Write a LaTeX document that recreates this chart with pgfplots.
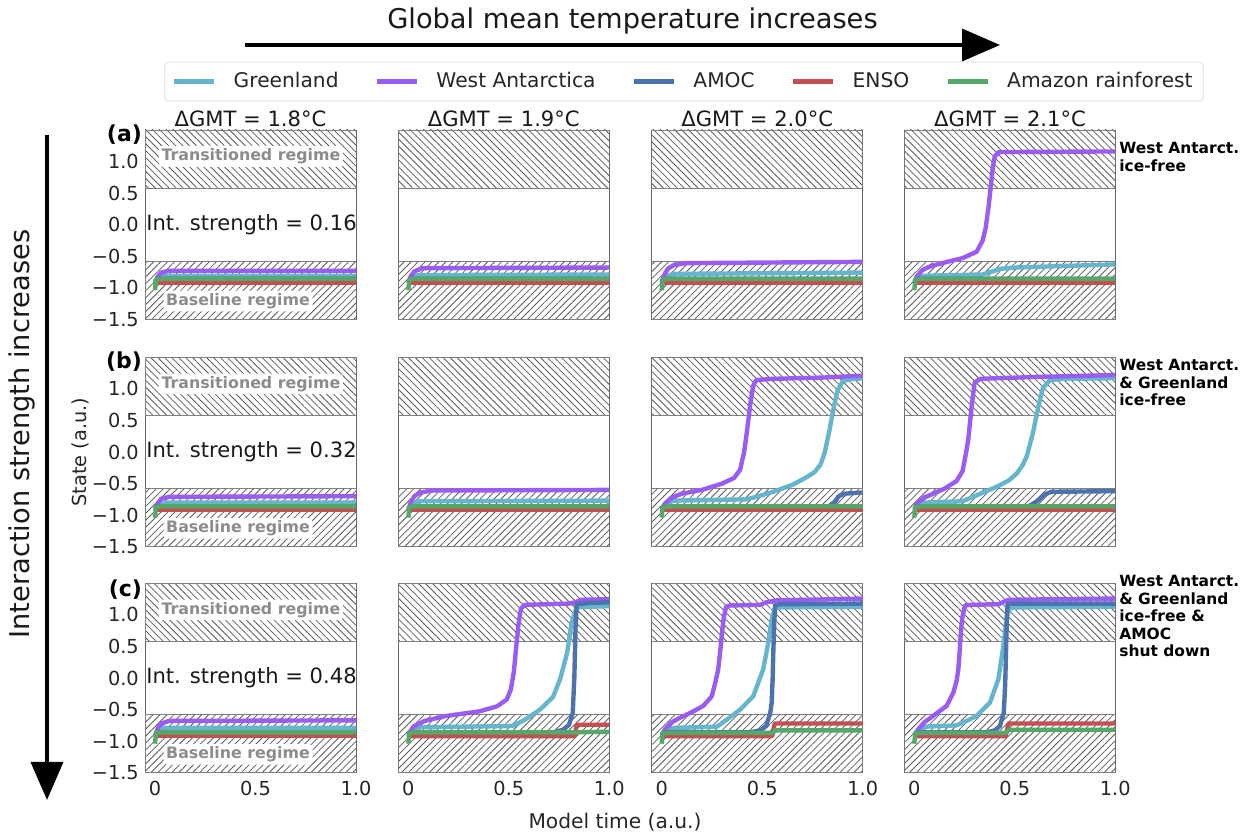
\documentclass[border=0pt]{standalone}
\usepackage{fontspec}
\setmainfont{DejaVu Sans}
\usepackage{pgfplots}
\pgfplotsset{compat=1.18}
\usetikzlibrary{patterns.meta,arrows.meta}

\definecolor{cGL}{HTML}{64B5CD}
\definecolor{cWA}{HTML}{9B5CF6}
\definecolor{cAM}{HTML}{4C72B0}
\definecolor{cEN}{HTML}{C44E52}
\definecolor{cAZ}{HTML}{55A868}

\pgfplotsset{
  panel/.style={scale only axis, width=4.22cm, height=3.786cm, anchor=south west,
    xmin=-0.05, xmax=1, ymin=-1.5, ymax=1.5,
    xtick={0,0.5,1}, ytick={-1.5,-1,-0.5,0,0.5,1},
    xticklabels={,,}, yticklabels={,,,,,},
    major tick length=0pt,
    axis line style={draw=black!60, line width=0.5pt},
    tick label style={font=\fontsize{11}{13}\selectfont, text=black!85},
    xticklabel style={yshift=-1pt}},
  ylab/.style={yticklabels={−1.5,−1.0,−0.5,0.0,0.5,1.0}},
  xlab/.style={xticklabels={0,0.5,1.0}},
  gl/.style={color=cGL, line width=2.5pt, line join=round, no markers},
  wa/.style={color=cWA, line width=2.5pt, line join=round, no markers},
  am/.style={color=cAM, line width=2.5pt, line join=round, no markers},
  en/.style={color=cEN, line width=2.5pt, line join=round, no markers},
  az/.style={color=cAZ, line width=2.5pt, line join=round, no markers},
}

\newcommand{\regimes}{%
  \addplot[forget plot, draw=black!50, line width=0.5pt, pattern={Lines[angle=-45,distance=2.8pt,line width=0.45pt]}, pattern color=black!65]
    coordinates {(-0.05,0.58) (1,0.58) (1,1.5) (-0.05,1.5) (-0.05,0.58)};
  \addplot[forget plot, draw=black!50, line width=0.5pt, pattern={Lines[angle=45,distance=2.8pt,line width=0.45pt]}, pattern color=black!65]
    coordinates {(-0.05,-1.5) (1,-1.5) (1,-0.58) (-0.05,-0.58) (-0.05,-1.5)};
}
\newcommand{\regimelabels}[1]{%
  \node[fill=white, rounded corners=2pt, inner sep=1.5pt, text=black!45, font=\bfseries\fontsize{9}{10}\selectfont] at (axis cs:0.477,1.08) {Transitioned regime};
  \node[fill=white, rounded corners=2pt, inner sep=1.5pt, text=black!45, font=\bfseries\fontsize{9}{10}\selectfont] at (axis cs:0.413,-1.21) {Baseline regime};
  \node[font=\fontsize{12}{14}\selectfont, text=black!90] at (axis cs:0.48,0.0) {Int. strength = #1};
}
\newcommand{\flatrest}{%
  \addplot[am] coordinates {(0,-0.90) (0.01,-0.86) (1,-0.86)};
  \addplot[en] coordinates {(0,-0.92) (1,-0.92)};
  \addplot[az] coordinates {(0,-1.04) (0.004,-0.87) (0.03,-0.86) (1,-0.86)};
}

\begin{document}
\begin{tikzpicture}
\useasboundingbox (0,0) rectangle (25,16.66);

% ---------- row a ----------
\begin{axis}[panel, ylab, at={(2.9cm,10.274cm)},
  legend columns=5,
  legend image code/.code={\draw[#1, line width=2.5pt] (0cm,0cm) -- (0.8cm,0cm);},
  legend style={at={(axis description cs:2.5545,1.256)}, anchor=center, draw=black!15, rounded corners=2pt,
    font=\fontsize{11.5}{13}\selectfont, text=black!85, inner xsep=4pt, inner ysep=4pt,
    /tikz/every odd column/.append style={column sep=0.28cm},
    /tikz/every even column/.append style={column sep=0.65cm}}]
\regimes
\addplot[gl] coordinates {(0,-0.90) (0.02,-0.84) (0.05,-0.81) (1,-0.81)};
\addplot[wa] coordinates {(0,-0.92) (0.012,-0.83) (0.03,-0.76) (0.07,-0.73) (1,-0.73)};
\flatrest
\legend{Greenland, West Antarctica, AMOC, ENSO, Amazon rainforest}
\regimelabels{0.16}
\end{axis}

\begin{axis}[panel, at={(7.966cm,10.274cm)}]
\regimes
\addplot[gl] coordinates {(0,-0.90) (0.02,-0.83) (0.05,-0.80) (1,-0.79)};
\addplot[wa] coordinates {(0,-0.92) (0.012,-0.82) (0.03,-0.74) (0.07,-0.69) (1,-0.68)};
\flatrest
\end{axis}

\begin{axis}[panel, at={(13.034cm,10.274cm)}]
\regimes
\addplot[gl] coordinates {(0,-0.90) (0.02,-0.82) (0.06,-0.78) (1,-0.76)};
\addplot[wa] coordinates {(0,-0.92) (0.012,-0.80) (0.03,-0.70) (0.06,-0.64) (0.12,-0.61) (1,-0.59)};
\flatrest
\end{axis}

\begin{axis}[panel, at={(18.086cm,10.274cm)}]
\regimes
\addplot[gl] coordinates {(0,-0.90) (0.02,-0.84) (0.05,-0.81) (0.34,-0.79) (0.38,-0.75) (0.43,-0.70) (0.5,-0.68) (0.7,-0.66) (1,-0.63)};
\addplot[wa] coordinates {(0,-0.92) (0.012,-0.82) (0.04,-0.72) (0.08,-0.66) (0.15,-0.60) (0.24,-0.53) (0.31,-0.43) (0.34,-0.25) (0.355,-0.05) (0.37,0.30) (0.38,0.60) (0.39,0.90) (0.40,1.08) (0.42,1.15) (1,1.16)};
\flatrest
\end{axis}

% ---------- row b ----------
\begin{axis}[panel, ylab, at={(2.9cm,5.726cm)}]
\regimes
\addplot[gl] coordinates {(0,-0.90) (0.02,-0.84) (0.05,-0.80) (1,-0.80)};
\addplot[wa] coordinates {(0,-0.92) (0.012,-0.82) (0.03,-0.74) (0.07,-0.71) (1,-0.70)};
\flatrest
\regimelabels{0.32}
\end{axis}

\begin{axis}[panel, at={(7.966cm,5.726cm)}]
\regimes
\addplot[gl] coordinates {(0,-0.90) (0.02,-0.82) (0.06,-0.78) (1,-0.77)};
\addplot[wa] coordinates {(0,-0.92) (0.012,-0.80) (0.03,-0.70) (0.06,-0.64) (0.12,-0.61) (1,-0.60)};
\flatrest
\end{axis}

\begin{axis}[panel, at={(13.034cm,5.726cm)}]
\regimes
\addplot[gl] coordinates {(0,-0.90) (0.02,-0.82) (0.06,-0.77) (0.42,-0.75) (0.47,-0.71) (0.555,-0.63) (0.65,-0.52) (0.72,-0.40) (0.76,-0.32) (0.79,-0.20) (0.81,-0.02) (0.835,0.35) (0.855,0.70) (0.875,0.98) (0.9,1.12) (0.93,1.15) (1,1.17)};
\addplot[wa] coordinates {(0,-0.92) (0.015,-0.82) (0.05,-0.72) (0.1,-0.66) (0.2,-0.60) (0.3,-0.50) (0.36,-0.41) (0.39,-0.28) (0.41,0.0) (0.425,0.35) (0.44,0.75) (0.455,1.05) (0.47,1.14) (0.55,1.16) (0.8,1.18) (1,1.21)};
\addplot[am] coordinates {(0,-0.90) (0.01,-0.86) (0.83,-0.86) (0.86,-0.80) (0.88,-0.70) (0.91,-0.66) (1,-0.64)};
\addplot[en] coordinates {(0,-0.92) (1,-0.92)};
\addplot[az] coordinates {(0,-1.04) (0.004,-0.87) (0.03,-0.86) (1,-0.86)};
\end{axis}

\begin{axis}[panel, at={(18.086cm,5.726cm)}]
\regimes
\addplot[gl] coordinates {(0,-0.90) (0.02,-0.84) (0.06,-0.80) (0.24,-0.78) (0.30,-0.70) (0.41,-0.55) (0.47,-0.45) (0.51,-0.34) (0.54,-0.20) (0.56,-0.06) (0.59,0.30) (0.617,0.72) (0.64,1.02) (0.675,1.14) (0.75,1.16) (1,1.17)};
\addplot[wa] coordinates {(0,-0.92) (0.012,-0.81) (0.05,-0.72) (0.094,-0.66) (0.15,-0.58) (0.21,-0.46) (0.24,-0.30) (0.255,-0.05) (0.268,0.19) (0.285,0.72) (0.30,1.10) (0.327,1.16) (0.6,1.19) (1,1.22)};
\addplot[am] coordinates {(0,-0.90) (0.01,-0.86) (0.57,-0.86) (0.61,-0.78) (0.645,-0.68) (0.68,-0.63) (1,-0.62)};
\addplot[en] coordinates {(0,-0.92) (1,-0.92)};
\addplot[az] coordinates {(0,-1.04) (0.004,-0.87) (0.03,-0.86) (1,-0.86)};
\end{axis}

% ---------- row c ----------
\begin{axis}[panel, ylab, xlab, at={(2.9cm,1.206cm)}]
\regimes
\addplot[gl] coordinates {(0,-0.90) (0.02,-0.83) (0.05,-0.79) (1,-0.79)};
\addplot[wa] coordinates {(0,-0.92) (0.012,-0.81) (0.03,-0.72) (0.07,-0.68) (1,-0.67)};
\flatrest
\regimelabels{0.48}
\end{axis}

\begin{axis}[panel, xlab, at={(7.966cm,1.206cm)}]
\regimes
\addplot[gl] coordinates {(0,-0.90) (0.02,-0.82) (0.06,-0.78) (0.52,-0.76) (0.58,-0.66) (0.655,-0.50) (0.72,-0.30) (0.755,-0.02) (0.79,0.40) (0.813,0.88) (0.838,1.12) (0.9,1.13) (1,1.14)};
\addplot[wa] coordinates {(0,-0.92) (0.012,-0.84) (0.025,-0.77) (0.08,-0.68) (0.19,-0.60) (0.35,-0.53) (0.44,-0.45) (0.49,-0.34) (0.51,-0.18) (0.525,0.10) (0.537,0.50) (0.548,0.85) (0.56,1.10) (0.58,1.16) (0.8,1.18) (0.83,1.20) (0.86,1.24) (1,1.25)};
\addplot[am] coordinates {(0,-0.90) (0.01,-0.86) (0.72,-0.86) (0.77,-0.82) (0.80,-0.74) (0.818,-0.55) (0.826,0.0) (0.832,0.8) (0.838,1.17) (0.9,1.19) (1,1.20)};
\addplot[en] coordinates {(0,-0.92) (0.828,-0.92) (0.838,-0.74) (1,-0.74)};
\addplot[az] coordinates {(0,-1.04) (0.004,-0.87) (0.03,-0.86) (0.83,-0.86) (1,-0.85)};
\end{axis}

\begin{axis}[panel, xlab, at={(13.034cm,1.206cm)}]
\regimes
\addplot[gl] coordinates {(0,-0.90) (0.02,-0.82) (0.06,-0.79) (0.275,-0.77) (0.34,-0.62) (0.39,-0.50) (0.455,-0.29) (0.505,0.14) (0.53,0.56) (0.547,0.93) (0.563,1.11) (0.6,1.12) (1,1.13)};
\addplot[wa] coordinates {(0,-0.92) (0.016,-0.81) (0.05,-0.70) (0.09,-0.63) (0.15,-0.54) (0.207,-0.44) (0.249,-0.29) (0.268,-0.05) (0.281,0.14) (0.29,0.40) (0.298,0.66) (0.308,0.95) (0.32,1.13) (0.34,1.15) (0.49,1.16) (0.52,1.20) (0.57,1.23) (1,1.26)};
\addplot[am] coordinates {(0,-0.90) (0.01,-0.86) (0.44,-0.86) (0.49,-0.83) (0.52,-0.76) (0.54,-0.55) (0.547,-0.39) (0.552,0.0) (0.555,0.40) (0.56,0.9) (0.565,1.16) (0.6,1.17) (1,1.18)};
\addplot[en] coordinates {(0,-0.92) (0.55,-0.92) (0.562,-0.72) (1,-0.72)};
\addplot[az] coordinates {(0,-1.04) (0.004,-0.87) (0.03,-0.87) (0.55,-0.87) (0.562,-0.83) (1,-0.83)};
\end{axis}

\begin{axis}[panel, xlab, at={(18.086cm,1.206cm)}]
\regimes
\addplot[gl] coordinates {(0,-0.90) (0.02,-0.82) (0.06,-0.77) (0.21,-0.75) (0.26,-0.68) (0.31,-0.60) (0.376,-0.39) (0.418,-0.02) (0.443,0.51) (0.46,0.98) (0.476,1.11) (0.52,1.12) (1,1.13)};
\addplot[wa] coordinates {(0,-0.92) (0.02,-0.81) (0.05,-0.70) (0.094,-0.60) (0.161,-0.44) (0.194,-0.23) (0.21,-0.05) (0.219,0.14) (0.225,0.40) (0.23,0.66) (0.238,0.95) (0.252,1.15) (0.28,1.16) (0.42,1.17) (0.445,1.21) (0.47,1.24) (1,1.26)};
\addplot[am] coordinates {(0,-0.90) (0.01,-0.86) (0.36,-0.86) (0.40,-0.83) (0.426,-0.76) (0.445,-0.55) (0.452,-0.1) (0.456,0.40) (0.46,0.9) (0.464,1.17) (0.5,1.18) (1,1.18)};
\addplot[en] coordinates {(0,-0.92) (0.455,-0.92) (0.468,-0.72) (1,-0.72)};
\addplot[az] coordinates {(0,-1.04) (0.004,-0.87) (0.03,-0.87) (0.455,-0.87) (0.468,-0.82) (1,-0.82)};
\end{axis}

% ---------- surrounding text ----------
\node[font=\fontsize{15.5}{18}\selectfont, text=black!90] at (12.65,16.24) {Global mean temperature increases};
\draw[line width=2pt, -{Triangle[length=0.76cm,width=0.64cm]}] (4.9,15.76) -- (20.0,15.76);
\node[rotate=90, font=\fontsize{15.5}{18}\selectfont, text=black!90] at (0.44,7.98) {Interaction strength increases};
\draw[line width=2pt, -{Triangle[length=0.76cm,width=0.64cm]}] (0.94,13.96) -- (0.94,0.66);

\node[rotate=90, font=\fontsize{11}{13}\selectfont, text=black!85] at (1.6,7.62) {State (a.u.)};
\node[font=\fontsize{11.5}{13}\selectfont, text=black!85] at (12.3,0.22) {Model time (a.u.)};

\foreach \cx/\t in {5.01/1.8, 10.076/1.9, 15.144/2.0, 20.2/2.1}
  \node[font=\fontsize{12}{14}\selectfont, text=black!90] at (\cx,14.28) {ΔGMT = \t°C};

\foreach \ry/\l in {13.96/a, 9.42/b, 4.86/c}
  \node[anchor=east, font=\bfseries\fontsize{12.5}{14}\selectfont, inner sep=1pt] at (2.88,\ry) {(\l)};

\node[anchor=north west, align=left, inner sep=0pt, font=\bfseries\fontsize{8.8}{10}\selectfont] at (22.38,13.82) {West Antarct.\\ice-free};
\node[anchor=north west, align=left, inner sep=0pt, font=\bfseries\fontsize{8.8}{10}\selectfont] at (22.38,9.48) {West Antarct.\\\& Greenland\\ice-free};
\node[anchor=north west, align=left, inner sep=0pt, font=\bfseries\fontsize{8.8}{10}\selectfont] at (22.38,5.16) {West Antarct.\\\& Greenland\\ice-free \&\\AMOC\\shut down};
\end{tikzpicture}
\end{document}
